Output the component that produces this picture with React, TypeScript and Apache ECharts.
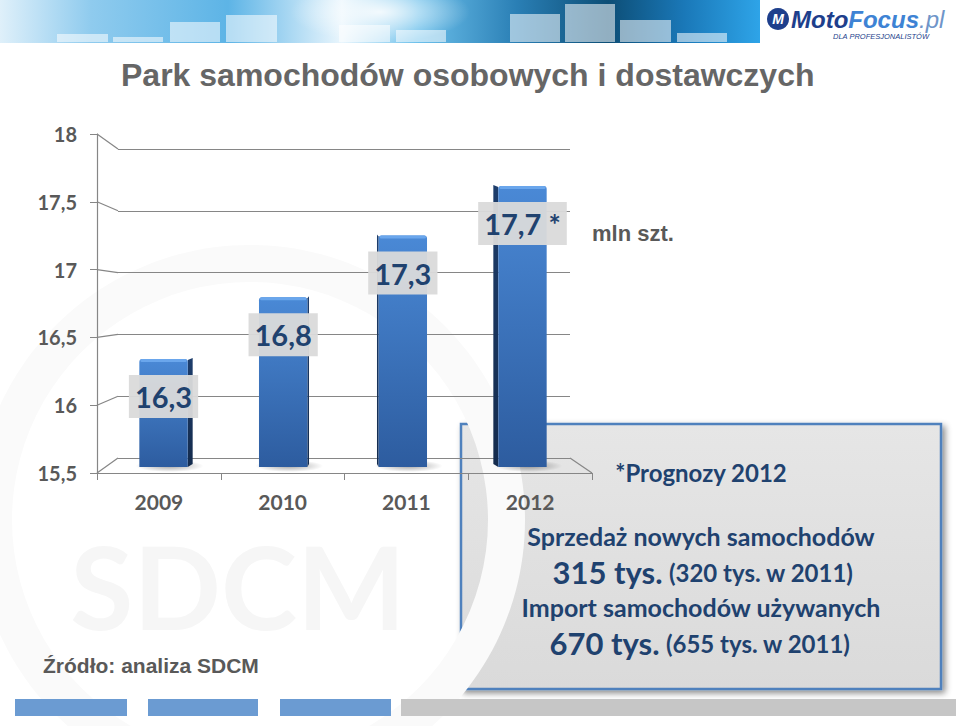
import React, { useEffect, useRef } from "react";
import * as echarts from "echarts";

// ---------- data ----------
const categories = ["2009", "2010", "2011", "2012"];
const values = [16.3, 16.8, 17.3, 17.7];
const forecastFlags = [false, false, false, true];
const Y_MIN = 15.5;
const Y_MAX = 18;
const Y_STEP = 0.5;
const yTicks = [15.5, 16, 16.5, 17, 17.5, 18];

const titleText = "Park samochodów osobowych i dostawczych";
const unitText = "mln szt.";
const sourceText = "Źródło: analiza SDCM";
const noteTitle = "*Prognozy 2012";
const salesLabel = "Sprzedaż nowych samochodów";
const salesValue = "315 tys.";
const salesPrev = "(320 tys. w 2011)";
const importLabel = "Import samochodów używanych";
const importValue = "670 tys.";
const importPrev = "(655 tys. w 2011)";

// ---------- style ----------
const FONT = 'Lato, "Open Sans", "Noto Sans", sans-serif';
const ARIAL = '"Liberation Sans", Arial, sans-serif';
const NAVY = "#1f426f";
const GRAY_TXT = "#595959";
const AXIS_GRAY = "#868686";

const FRONT = { left: 97, top: 134, width: 495, height: 339 };
const BACK = { left: 118, top: 149, width: 452, height: 309 };
const MID = { left: 107, top: 149, width: 472, height: 309 };
const FLOOR_DEPTH = 9;

const fmt = (v: number) => String(v).replace(".", ",");
const labelText = (i: number) => fmt(values[i]) + (forecastFlags[i] ? " *" : "");

const renderBar = (params: any, api: any) => {
  const i = api.value(0) as number;
  const v = api.value(1) as number;
  const top = api.coord([i, v]);
  const base = api.coord([i, Y_MIN]);
  const band = api.size([1, 0])[0];
  const w = band * 0.41;
  const cs = params.coordSys;
  const vanX = cs.x + cs.width / 2;
  const side = (vanX - top[0]) * 0.028;
  const total = w + Math.abs(side);
  const left = top[0] - total / 2;
  const fx = side >= 0 ? left : left + Math.abs(side);
  const yT = top[1];
  const yB = base[1] + FLOOR_DEPTH;
  const sx0 = side >= 0 ? fx + w : fx;
  const sx1 = sx0 + side;
  return {
    type: "group",
    children: [
      {
        type: "ellipse",
        shape: { cx: fx + w / 2 + 6, cy: yB - 1, rx: w * 0.7, ry: 6 },
        style: {
          fill: new echarts.graphic.RadialGradient(0.5, 0.5, 0.5, [
            { offset: 0, color: "rgba(0,0,0,0.35)" },
            { offset: 1, color: "rgba(0,0,0,0)" },
          ]),
        },
      },
      {
        type: "polygon",
        shape: { points: [[sx0, yT + 1], [sx1, yT - 1], [sx1, yB - 3], [sx0, yB]] },
        style: {
          fill: new echarts.graphic.LinearGradient(0, 0, 0, 1, [
            { offset: 0, color: "#1d3d6b" },
            { offset: 1, color: "#142b4d" },
          ]),
        },
      },
      {
        type: "rect",
        shape: { x: fx, y: yT, width: w, height: yB - yT, r: [3, 3, 0, 0] },
        style: {
          fill: new echarts.graphic.LinearGradient(0, 0, 0, 1, [
            { offset: 0, color: "#4a89d6" },
            { offset: 1, color: "#2d5c9f" },
          ]),
        },
      },
      {
        type: "rect",
        shape: { x: fx + 1, y: yT, width: w - 2, height: 3, r: 2 },
        style: { fill: "#6aa6ec" },
      },
      {
        type: "text",
        z2: 20,
        style: {
          text: labelText(i),
          x: fx + w / 2,
          y: yT + 16,
          align: "center",
          verticalAlign: "top",
          fill: NAVY,
          fontFamily: FONT,
          fontWeight: "bold",
          fontSize: 29,
          lineHeight: 35,
          backgroundColor: "rgba(218,218,218,0.95)",
          padding: [4, 6],
        },
      },
    ],
  };
};

function txt(id: string, text: string, x: number, y: number, o: any = {}) {
  return {
    type: "text",
    id,
    z: o.z ?? 10,
    silent: true,
    style: {
      text,
      x,
      y,
      align: o.align ?? "center",
      verticalAlign: "middle",
      textAlign: o.align ?? "center",
      textVerticalAlign: "middle",
      fill: o.fill ?? NAVY,
      fontFamily: o.fontFamily ?? FONT,
      fontWeight: o.fontWeight ?? "bold",
      fontStyle: o.fontStyle ?? "normal",
      fontSize: o.fontSize ?? 24,
      rich: o.rich,
    },
  };
}

const bannerRects = [
  [57, 108, 34], [113, 163, 37], [170, 220, 22], [226, 277, 15],
  [339, 390, 25], [396, 446, 30], [510, 560, 14], [565, 615, 4],
  [620, 671, 20], [677, 727, 33],
];

export default function App() {
  const ref = useRef<HTMLDivElement>(null);
  useEffect(() => {
    document.body.style.margin = "0";
    document.body.style.overflow = "hidden";
    const chart = echarts.init(ref.current!, null, { renderer: "svg" });

    const staticGraphics: any[] = [
      // watermark
      {
        type: "ring", id: "wm-ring", z: -30, silent: true,
        shape: { cx: 250, cy: 520, r: 275, r0: 238 },
        style: { fill: "#fafafa" },
      },
      txt("wm-text", "SDCM", 238, 585, { z: -29, fill: "#f6f6f6", fontSize: 115, fontFamily: FONT }),
      // banner
      {
        type: "rect", id: "banner", z: 1, silent: true,
        shape: { x: 0, y: 0, width: 760, height: 43 },
        style: {
          fill: new echarts.graphic.LinearGradient(0, 0, 1, 0, [
            { offset: 0, color: "#dff0fa" },
            { offset: 0.12, color: "#8fcbee" },
            { offset: 0.3, color: "#5db4e6" },
            { offset: 0.45, color: "#eaf6fd" },
            { offset: 0.55, color: "#6cc0eb" },
            { offset: 0.68, color: "#2a7fb5" },
            { offset: 0.8, color: "#0d4e76" },
            { offset: 0.9, color: "#1a78b8" },
            { offset: 1, color: "#2ea4e8" },
          ]),
        },
      },
      {
        type: "ellipse", id: "banner-glow", z: 2, silent: true,
        shape: { cx: 380, cy: 12, rx: 90, ry: 30 },
        style: {
          fill: new echarts.graphic.RadialGradient(0.5, 0.5, 0.5, [
            { offset: 0, color: "rgba(255,255,255,0.85)" },
            { offset: 1, color: "rgba(255,255,255,0)" },
          ]),
        },
      },
      {
        type: "rect", id: "banner-mask", z: 3, silent: true,
        shape: { x: 0, y: 43, width: 760, height: 20 },
        style: { fill: "#ffffff" },
      },
      ...bannerRects.map((r, k) => ({
        type: "rect", id: "br" + k, z: 4, silent: true,
        shape: { x: r[0], y: r[2], width: r[1] - r[0], height: 42 - r[2] },
        style: { fill: "rgba(255,255,255,0.55)" },
      })),
      // logo
      {
        type: "circle", id: "logo-c", z: 5, silent: true,
        shape: { cx: 778, cy: 19, r: 11 },
        style: { fill: "#1e3f8c" },
      },
      txt("logo-m", "M", 778, 19, { fill: "#ffffff", fontFamily: ARIAL, fontStyle: "italic", fontSize: 14 }),
      {
        type: "text", id: "logo-t", z: 5, silent: true,
        style: {
          text: "{a|Moto}{b|Focus}{c|.pl}",
          x: 791, y: 19,
          align: "left", verticalAlign: "middle",
          textAlign: "left", textVerticalAlign: "middle",
          rich: {
            a: { fill: "#1e3f8c", fontFamily: ARIAL, fontWeight: "bold", fontStyle: "italic", fontSize: 24 },
            b: { fill: "#3e83d4", fontFamily: ARIAL, fontWeight: "bold", fontStyle: "italic", fontSize: 24 },
            c: { fill: "#6f95c9", fontFamily: ARIAL, fontStyle: "italic", fontSize: 24 },
          },
        },
      },
      txt("logo-sub", "DLA PROFESJONALISTÓW", 881, 36, {
        fill: "#1e3f8c", fontFamily: ARIAL, fontWeight: "normal", fontStyle: "italic", fontSize: 7.5,
      }),
      // title
      txt("title", titleText, 121, 75, { align: "left", fill: "#666666", fontFamily: ARIAL, fontSize: 32 }),
      txt("unit", unitText, 592, 233, { align: "left", fill: GRAY_TXT, fontFamily: ARIAL, fontSize: 22 }),
      txt("source", sourceText, 43, 665, { align: "left", fill: GRAY_TXT, fontFamily: ARIAL, fontSize: 21 }),
      // info box
      {
        type: "rect", id: "box", z: -100, silent: true,
        shape: { x: 461, y: 424, width: 480, height: 265 },
        style: {
          fill: new echarts.graphic.LinearGradient(0, 0, 0, 1, [
            { offset: 0, color: "#e6e6e6" },
            { offset: 1, color: "#dadada" },
          ]),
          stroke: "#4f81bd",
          lineWidth: 2.5,
          shadowBlur: 6,
          shadowColor: "rgba(0,0,0,0.45)",
          shadowOffsetX: 3,
          shadowOffsetY: 3,
        },
      },
      txt("n0", noteTitle, 701, 472, { fontSize: 24 }),
      txt("n1", salesLabel, 701, 536, { fontSize: 25 }),
      txt("n2", `{big|${salesValue}} {small|${salesPrev}}`, 703, 572, {
        rich: {
          big: { fill: NAVY, fontFamily: FONT, fontWeight: "bold", fontSize: 31 },
          small: { fill: NAVY, fontFamily: FONT, fontWeight: "bold", fontSize: 24 },
        },
      }),
      txt("n3", importLabel, 701, 607, { fontSize: 25 }),
      txt("n4", `{big|${importValue}} {small|${importPrev}}`, 700, 643, {
        rich: {
          big: { fill: NAVY, fontFamily: FONT, fontWeight: "bold", fontSize: 31 },
          small: { fill: NAVY, fontFamily: FONT, fontWeight: "bold", fontSize: 24 },
        },
      }),
      // bottom strip
      ...[[15, 127], [148, 258], [280, 391]].map((r, k) => ({
        type: "rect", id: "bs" + k, z: 1, silent: true,
        shape: { x: r[0], y: 699, width: r[1] - r[0], height: 17 },
        style: { fill: "#6b9bd2" },
      })),
      {
        type: "rect", id: "bsg", z: 1, silent: true,
        shape: { x: 401, y: 699, width: 555, height: 17 },
        style: { fill: "#c6c6c6" },
      },
    ];

    const option: any = {
      animation: false,
      backgroundColor: "#ffffff",
      grid: [
        { ...FRONT },
        { ...BACK },
        { ...MID },
      ],
      xAxis: [
        {
          gridIndex: 0, type: "category", data: categories, boundaryGap: true, z: 5,
          axisLine: { show: true, lineStyle: { color: AXIS_GRAY, width: 1.2 } },
          axisTick: { show: true, length: 7, alignWithLabel: false, lineStyle: { color: AXIS_GRAY } },
          axisLabel: { color: GRAY_TXT, fontFamily: FONT, fontWeight: "bold", fontSize: 21, margin: 18 },
          splitLine: { show: false },
        },
        {
          gridIndex: 1, type: "category", data: categories, boundaryGap: true, show: false,
        },
        {
          gridIndex: 2, type: "category", data: categories, boundaryGap: true, show: false,
        },
      ],
      yAxis: [
        {
          gridIndex: 0, type: "value", min: Y_MIN, max: Y_MAX, interval: Y_STEP, z: 5,
          axisLine: { show: true, lineStyle: { color: AXIS_GRAY, width: 1.2 } },
          axisTick: { show: true, length: 7, lineStyle: { color: AXIS_GRAY } },
          axisLabel: {
            color: GRAY_TXT, fontFamily: FONT, fontWeight: "bold", fontSize: 20, margin: 20,
            formatter: (v: number) => fmt(v),
          },
          splitLine: { show: false },
        },
        {
          gridIndex: 1, type: "value", min: Y_MIN, max: Y_MAX, interval: Y_STEP, z: 5,
          axisLine: { show: false }, axisTick: { show: false }, axisLabel: { show: false },
          splitLine: { show: true, lineStyle: { color: AXIS_GRAY, width: 1.2 } },
        },
        {
          gridIndex: 2, type: "value", min: Y_MIN, max: Y_MAX, interval: Y_STEP, show: false,
          splitLine: { show: false },
        },
      ],
      graphic: { elements: staticGraphics },
      series: [
        {
          type: "custom",
          xAxisIndex: 2,
          yAxisIndex: 2,
          z: 8,
          renderItem: renderBar,
          data: values.map((v, i) => [i, v]),
        },
      ],
    };
    chart.setOption(option);

    const fy = (v: number) => chart.convertToPixel({ yAxisIndex: 0 } as any, v) as unknown as number;
    const by = (v: number) => chart.convertToPixel({ yAxisIndex: 1 } as any, v) as unknown as number;
    const lineStyle = { stroke: AXIS_GRAY, lineWidth: 1.2 };
    const dyn: any[] = yTicks.map((v, k) => ({
      type: "line", id: "conn" + k, z: 6, silent: true,
      shape: { x1: FRONT.left, y1: fy(v), x2: BACK.left, y2: by(v) },
      style: lineStyle,
    }));
    dyn.push({
      type: "line", id: "floor-r", z: 6, silent: true,
      shape: { x1: BACK.left + BACK.width, y1: by(Y_MIN), x2: FRONT.left + FRONT.width, y2: fy(Y_MIN) },
      style: lineStyle,
    });
    chart.setOption({ graphic: { elements: dyn } });

    return () => chart.dispose();
  }, []);
  return <div ref={ref} style={{ width: 960, height: 726 }} />;
}
